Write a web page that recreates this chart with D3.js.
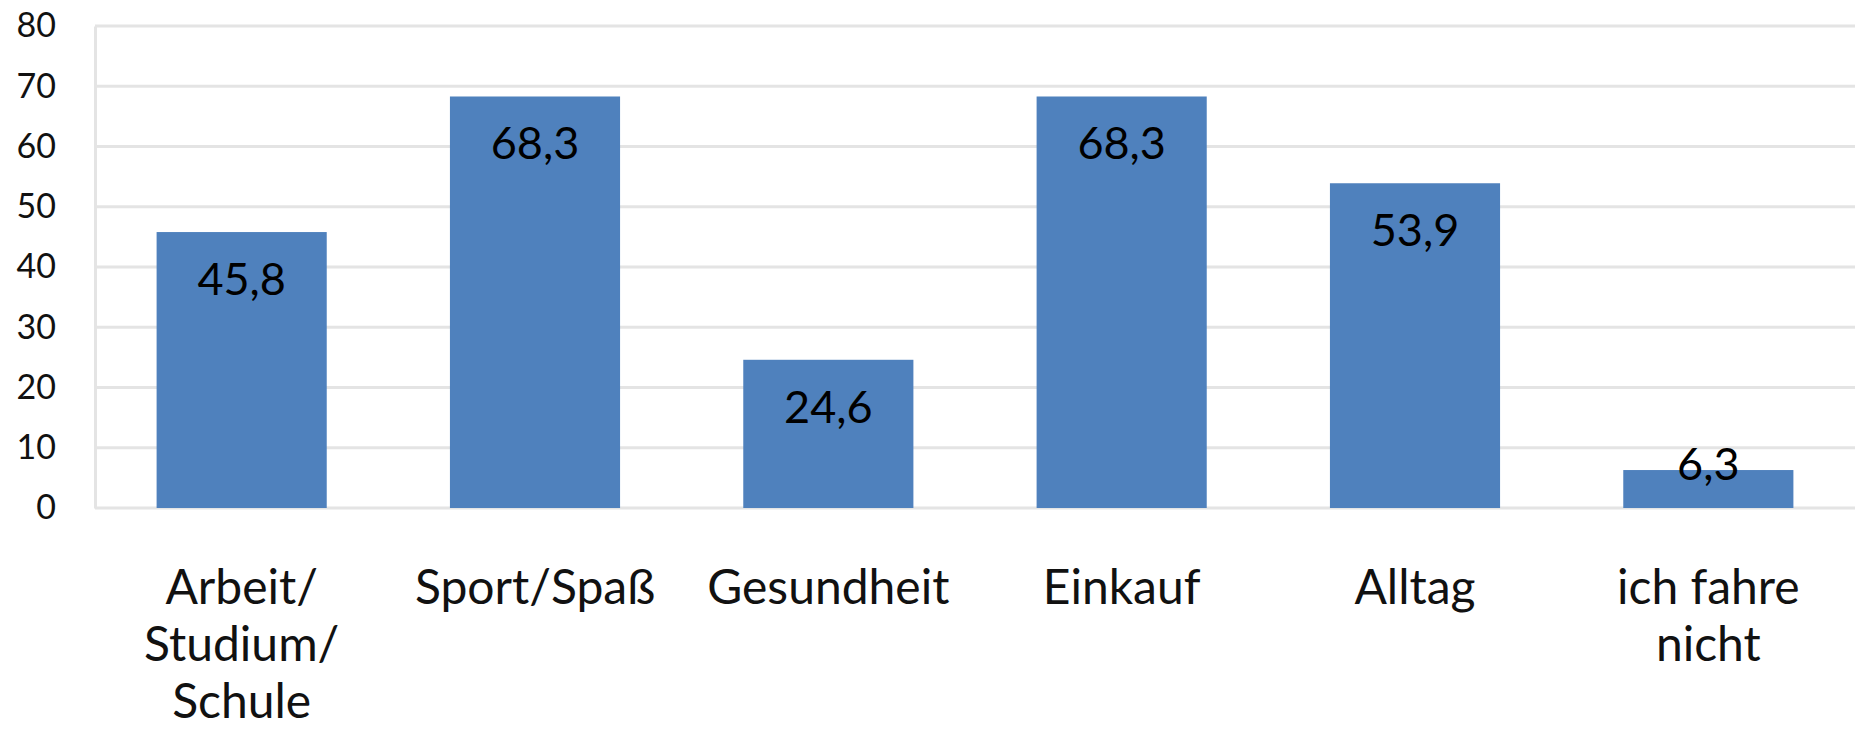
<!DOCTYPE html>
<html>
<head>
<meta charset="utf-8">
<script src="https://cdn.jsdelivr.net/npm/d3@7"></script>
<style>
  html, body { margin: 0; padding: 0; background: #fff; }
  svg { display: block; font-family: Lato, "Noto Sans", sans-serif; }
</style>
</head>
<body>
<svg id="chart"></svg>
<script>
var CATEGORIES = ["Arbeit/ Studium/ Schule", "Sport/Spaß", "Gesundheit", "Einkauf", "Alltag", "ich fahre nicht"];
var CATEGORY_LINES = [["Arbeit/", "Studium/", "Schule"], ["Sport/Spaß"], ["Gesundheit"], ["Einkauf"], ["Alltag"], ["ich fahre", "nicht"]];
var VALUES = [45.8, 68.3, 24.6, 68.3, 53.9, 6.3];
var Y_TICKS = [0, 10, 20, 30, 40, 50, 60, 70, 80];

(function () {
    var WIDTH = 1859;
    var HEIGHT = 733;

    var PLOT_LEFT = 95;
    var PLOT_RIGHT = 1855;
    var PLOT_TOP = 26;
    var PLOT_BOTTOM = 508;

    var BAR_COLOR = "#4f81bd";
    var GRID_COLOR = "#e4e4e4";

    var fmt = function (v) { return String(v).replace(".", ","); };

    var svg = d3.select("#chart").attr("width", WIDTH).attr("height", HEIGHT);

    var x = d3.scaleBand().domain(CATEGORIES)
        .range([PLOT_LEFT, PLOT_RIGHT])
        .paddingInner(0.42).paddingOuter(0.21);
    var y = d3.scaleLinear().domain([0, 80]).range([PLOT_BOTTOM, PLOT_TOP]);

    // gridlines
    svg.append("g").selectAll("line").data(Y_TICKS).join("line")
        .attr("x1", PLOT_LEFT).attr("x2", PLOT_RIGHT)
        .attr("y1", function (d) { return y(d); })
        .attr("y2", function (d) { return y(d); })
        .attr("stroke", GRID_COLOR).attr("stroke-width", 3);

    // y axis
    var yAxis = d3.axisLeft(y).tickValues(Y_TICKS).tickSize(0).tickPadding(39);
    var gy = svg.append("g").attr("transform", "translate(" + PLOT_LEFT + ",0)").call(yAxis);
    gy.select(".domain").attr("stroke", GRID_COLOR).attr("stroke-width", 3);
    gy.selectAll("text").attr("font-size", 34).attr("fill", "#111")
        .attr("font-family", "Lato, 'Noto Sans', sans-serif");

    // bars
    svg.append("g").selectAll("rect").data(VALUES).join("rect")
        .attr("x", function (d, i) { return x(CATEGORIES[i]); })
        .attr("width", x.bandwidth())
        .attr("y", function (d) { return y(d); })
        .attr("height", function (d) { return y(0) - y(d); })
        .attr("fill", BAR_COLOR);

    // value labels
    svg.append("g").selectAll("text").data(VALUES).join("text")
        .attr("x", function (d, i) { return x(CATEGORIES[i]) + x.bandwidth() / 2; })
        .attr("y", function (d) { return Math.min(y(d) + 63, y(0) - 28); })
        .attr("text-anchor", "middle")
        .attr("font-size", 45)
        .attr("fill", "#000")
        .text(fmt);

    // category labels
    var xAxis = d3.axisBottom(x).tickSize(0).tickFormat("");
    var gx = svg.append("g").attr("transform", "translate(0," + PLOT_BOTTOM + ")").call(xAxis);
    gx.select(".domain").remove();

    var labels = svg.append("g").selectAll("text").data(CATEGORIES).join("text")
        .attr("text-anchor", "middle")
        .attr("font-size", 48)
        .attr("fill", "#111")
        .attr("transform", function (d) { return "translate(" + (x(d) + x.bandwidth() / 2) + ",604)"; });
    labels.selectAll("tspan").data(function (d, i) { return CATEGORY_LINES[i]; }).join("tspan")
        .attr("x", 0)
        .attr("y", function (d, i) { return i * 57; })
        .text(function (d) { return d; });
}());
</script>
</body>
</html>
